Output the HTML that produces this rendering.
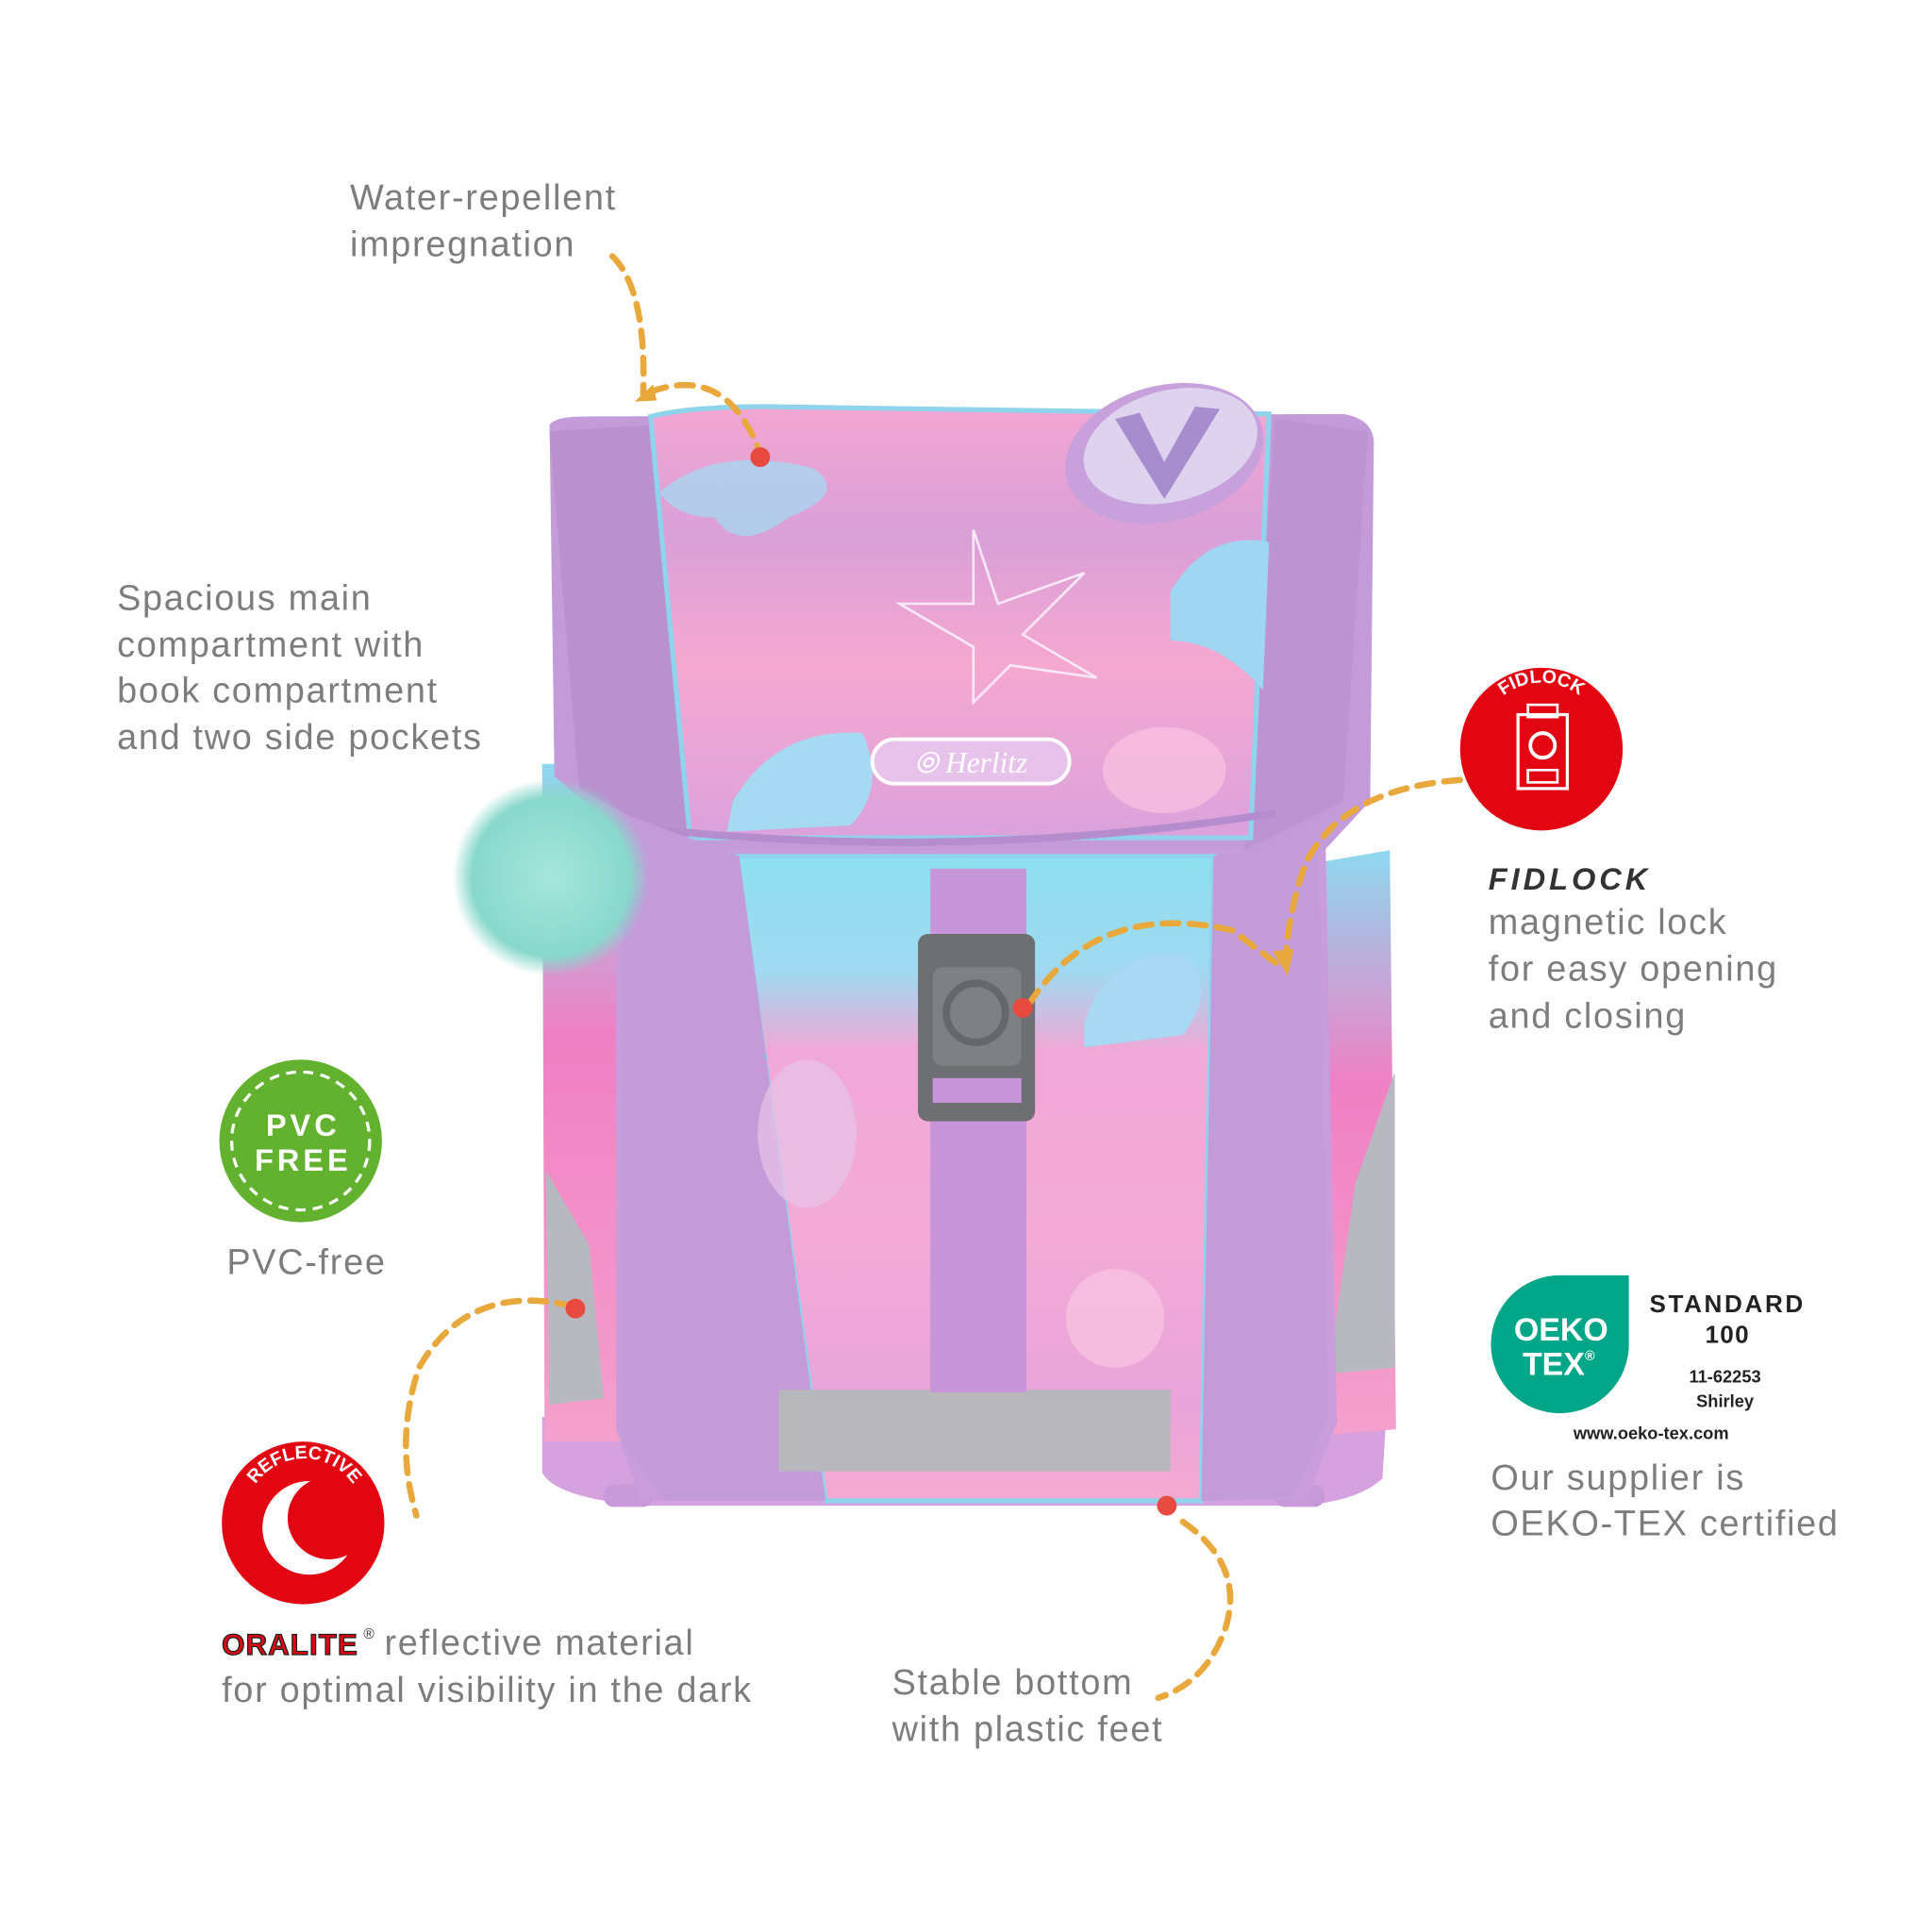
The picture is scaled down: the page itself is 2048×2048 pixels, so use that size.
<!DOCTYPE html>
<html><head><meta charset="utf-8"><style>
html,body{margin:0;padding:0;background:#fff}
svg{display:block}
.t{font-family:"Liberation Sans",sans-serif;fill:#7d7d7d;font-size:29px;letter-spacing:1.3px}
.d{fill:none;stroke:#e8a83c;stroke-width:5;stroke-dasharray:13 9;stroke-linecap:round}
.w{font-family:"Liberation Sans",sans-serif;font-weight:bold;fill:#fff}
</style></head><body>
<svg width="2048" height="2048" viewBox="0 0 1568 1568" xmlns="http://www.w3.org/2000/svg">
<defs>
<linearGradient id="lid" x1="0" y1="0" x2="0" y2="1">
<stop offset="0" stop-color="#f3a6d2"/><stop offset="0.3" stop-color="#d9a0d8"/><stop offset="0.6" stop-color="#f5a8d0"/><stop offset="1" stop-color="#dba2dc"/></linearGradient>
<linearGradient id="pk" x1="0" y1="0" x2="0" y2="1">
<stop offset="0" stop-color="#8ee0ee"/><stop offset="0.18" stop-color="#a0d9f0"/><stop offset="0.3" stop-color="#f0a8d6"/><stop offset="0.6" stop-color="#f3aad6"/><stop offset="0.85" stop-color="#e8a4da"/><stop offset="1" stop-color="#f5a9d0"/></linearGradient>
<linearGradient id="sd" x1="0" y1="0" x2="0" y2="1">
<stop offset="0" stop-color="#8ed8ee"/><stop offset="0.4" stop-color="#f080c4"/><stop offset="1" stop-color="#f4a0cc"/></linearGradient>
<radialGradient id="pom"><stop offset="0" stop-color="#a6e6dc"/><stop offset="0.8" stop-color="#88d8cc"/><stop offset="1" stop-color="#88d8cc" stop-opacity="0"/></radialGradient>
</defs>
<path d="M440 1150 L1125 1150 L1122 1200 Q1100 1220 1050 1222 L520 1222 Q450 1215 440 1195 Z" fill="#d5a2df"/>
<rect x="490" y="1205" width="40" height="18" rx="8" fill="#c899d8"/>
<rect x="1035" y="1205" width="40" height="18" rx="8" fill="#c899d8"/>
<path d="M440 620 L500 620 L505 1170 L442 1170 Z" fill="url(#sd)"/>
<path d="M1070 700 L1128 690 L1133 1160 L1070 1165 Z" fill="url(#sd)"/>
<path d="M443 950 L478 1010 L490 1135 L446 1140 Z" fill="#b8b8c0"/>
<path d="M1132 870 L1100 960 L1078 1115 L1132 1110 Z" fill="#b8b8c0"/>
<path d="M500 640 L1075 640 L1085 1155 L1060 1218 L520 1218 L500 1160 Z" fill="#c99ddb"/>
<path d="M446 345 Q450 338 475 338 L1090 336 Q1115 340 1115 360 L1112 650 L1075 690 L520 690 L450 630 Z" fill="#c49bd9"/>
<path d="M446 350 L530 345 L560 690 L470 640 Z" fill="#b991cf"/>
<path d="M1110 350 L1035 340 L1010 690 L1090 650 Z" fill="#bc94d2"/>
<path d="M528 338 Q560 330 620 330 L1030 336 L1015 680 L560 680 Z" fill="url(#lid)" stroke="#8fd3ec" stroke-width="4"/>
<path d="M535 400 Q580 360 660 380 Q690 400 640 420 Q600 450 580 420 Q550 420 535 400Z" fill="#a9d6f0" opacity="0.8"/>
<path d="M950 480 Q980 430 1030 440 L1025 560 Q990 520 950 520Z" fill="#9fd6f2"/>
<path d="M595 650 Q630 590 700 595 Q720 640 690 670 L590 675Z" fill="#a6daf2"/>
<ellipse cx="945" cy="625" rx="50" ry="35" fill="#f7bfe0" opacity="0.8"/>
<path d="M790 430 L810 490 L880 465 L830 515 L890 550 L820 540 L790 570 L790 525 L730 490 L790 490 Z" fill="none" stroke="#f8e8f8" stroke-width="2"/>
<rect x="708" y="600" width="160" height="36" rx="18" fill="#e7c3ec" stroke="#fff" stroke-width="3"/>
<text x="788" y="627" text-anchor="middle" font-family="Liberation Serif,serif" font-style="italic" font-size="24" fill="#fff">⦾ Herlitz</text>
<ellipse cx="945" cy="368" rx="82" ry="55" transform="rotate(-15 945 368)" fill="#c7a0dc"/>
<ellipse cx="950" cy="362" rx="72" ry="45" transform="rotate(-15 950 362)" fill="#ddd3ee"/>
<path d="M905 340 L945 405 L990 332 L970 330 L945 375 L925 335 Z" fill="#9a7cc4" opacity="0.8"/>
<path d="M520 672 Q780 700 1035 660" fill="none" stroke="#b58ccd" stroke-width="6"/>
<path d="M598 695 L985 695 L975 1218 L670 1218 Z" fill="url(#pk)" stroke="#8fd3ec" stroke-width="4"/>
<path d="M505 660 L600 695 L670 1218 L540 1218 L505 1170 Z" fill="#c49bd9"/>
<path d="M985 695 L1070 680 L1078 1150 L1050 1215 L975 1218 Z" fill="#c49bd9"/>
<path d="M880 830 Q900 770 960 775 Q990 800 960 840 L880 850Z" fill="#a8d8f2"/>
<ellipse cx="655" cy="920" rx="40" ry="60" fill="#e8c4e6" opacity="0.7"/>
<ellipse cx="905" cy="1070" rx="40" ry="40" fill="#f7c2e0" opacity="0.8"/>
<rect x="632" y="1128" width="318" height="66" fill="#b8b8bc"/>
<rect x="755" y="705" width="78" height="425" fill="#c796d8"/>
<rect x="745" y="758" width="95" height="152" rx="8" fill="#6d6f72"/>
<rect x="757" y="785" width="72" height="80" rx="8" fill="#7e8084"/>
<circle cx="792" cy="822" r="24" fill="none" stroke="#656769" stroke-width="6"/>
<rect x="757" y="875" width="72" height="20" fill="#c796d8"/>
<circle cx="447" cy="712" r="80" fill="url(#pom)"/>
<path class="d" d="M497 208 Q525 235 522 320"/>
<path d="M515 326 L530 312 L533 325 Z" fill="#e8a83c"/>
<path class="d" d="M528 318 Q590 295 617 368"/>
<circle cx="617" cy="371" r="8" fill="#e84a3f"/>
<path class="d" d="M1185 633 Q1090 640 1060 700 Q1045 740 1043 785"/>
<path class="d" d="M835 815 Q890 730 1000 755 L1040 785"/>
<path d="M1033 772 L1045 792 L1050 770 Z" fill="#e8a83c"/>
<circle cx="830" cy="818" r="8" fill="#e84a3f"/>
<path class="d" d="M465 1060 Q380 1040 340 1110 Q320 1170 338 1230"/>
<circle cx="467" cy="1062" r="8" fill="#e84a3f"/>
<path class="d" d="M960 1235 Q1010 1270 995 1320 Q980 1365 940 1378"/>
<circle cx="947" cy="1222" r="8" fill="#e84a3f"/>
<text class="t" x="284" y="170">Water-repellent</text>
<text class="t" x="284" y="208">impregnation</text>
<text class="t" x="95" y="495">Spacious main</text>
<text class="t" x="95" y="533">compartment with</text>
<text class="t" x="95" y="570">book compartment</text>
<text class="t" x="95" y="608">and two side pockets</text>
<circle cx="1251" cy="608" r="66" fill="#e20613"/>
<path id="arcF" d="M1203 590 A50 50 0 0 1 1299 590" fill="none"/>
<text class="w" font-size="15"><textPath href="#arcF" startOffset="50%" text-anchor="middle">FIDLOCK</textPath></text>
<rect x="1232" y="580" width="40" height="60" fill="none" stroke="#fff" stroke-width="2.5"/>
<rect x="1240" y="572" width="24" height="10" fill="none" stroke="#fff" stroke-width="2"/>
<circle cx="1252" cy="605" r="10" fill="none" stroke="#fff" stroke-width="3"/>
<rect x="1240" y="625" width="24" height="10" fill="none" stroke="#fff" stroke-width="2"/>
<text x="1208" y="722" font-family="Liberation Sans,sans-serif" font-weight="bold" font-style="italic" font-size="25" fill="#333" letter-spacing="3">FIDLOCK</text>
<text class="t" x="1208" y="758">magnetic lock</text>
<text class="t" x="1208" y="796">for easy opening</text>
<text class="t" x="1208" y="834">and closing</text>
<circle cx="244" cy="926" r="66" fill="#62b22f"/>
<circle cx="244" cy="926" r="56" fill="none" stroke="#fff" stroke-width="2.5" stroke-dasharray="8 6"/>
<text class="w" x="246" y="922" font-size="25" text-anchor="middle" letter-spacing="3">PVC</text>
<text class="w" x="246" y="950" font-size="25" text-anchor="middle" letter-spacing="3">FREE</text>
<text class="t" x="184" y="1034">PVC-free</text>
<circle cx="246" cy="1236" r="66" fill="#e20613"/>
<path id="arcR" d="M200 1222 A48 48 0 0 1 294 1222" fill="none"/>
<text class="w" font-size="15"><textPath href="#arcR" startOffset="50%" text-anchor="middle">REFLECTIVE</textPath></text>
<path d="M252 1202 A38 38 0 1 0 282 1262 A30 30 0 1 1 252 1202 Z" fill="#fff"/>
<text x="180" y="1343" font-family="Liberation Sans,sans-serif" font-weight="900" font-size="24" fill="#e20613" stroke="#222" stroke-width="1" textLength="110">ORALITE</text>
<text x="295" y="1330" font-family="Liberation Sans,sans-serif" font-size="12" fill="#333">®</text>
<text class="t" x="312" y="1343">reflective material</text>
<text class="t" x="180" y="1381">for optimal visibility in the dark</text>
<text class="t" x="724" y="1375">Stable bottom</text>
<text class="t" x="724" y="1413">with plastic feet</text>
<path d="M1322 1035 L1322 1090 A56 56 0 1 1 1266 1035 Z" fill="#00a688"/>
<text class="w" x="1267" y="1088" font-size="26" text-anchor="middle">OEKO</text>
<text class="w" x="1265" y="1116" font-size="26" text-anchor="middle">TEX<tspan font-size="11" dy="-12">®</tspan></text>
<text x="1402" y="1065" font-family="Liberation Sans,sans-serif" font-weight="bold" font-size="20" fill="#222" text-anchor="middle" letter-spacing="2">STANDARD</text>
<text x="1402" y="1090" font-family="Liberation Sans,sans-serif" font-weight="bold" font-size="20" fill="#222" text-anchor="middle" letter-spacing="1">100</text>
<text x="1400" y="1122" font-family="Liberation Sans,sans-serif" font-weight="bold" font-size="14" fill="#222" text-anchor="middle">11-62253</text>
<text x="1400" y="1142" font-family="Liberation Sans,sans-serif" font-weight="bold" font-size="14" fill="#222" text-anchor="middle">Shirley</text>
<text x="1340" y="1168" font-family="Liberation Sans,sans-serif" font-weight="bold" font-size="14" fill="#222" text-anchor="middle">www.oeko-tex.com</text>
<text class="t" x="1210" y="1209">Our supplier is</text>
<text class="t" x="1210" y="1246">OEKO-TEX certified</text>
</svg>
</body></html>
